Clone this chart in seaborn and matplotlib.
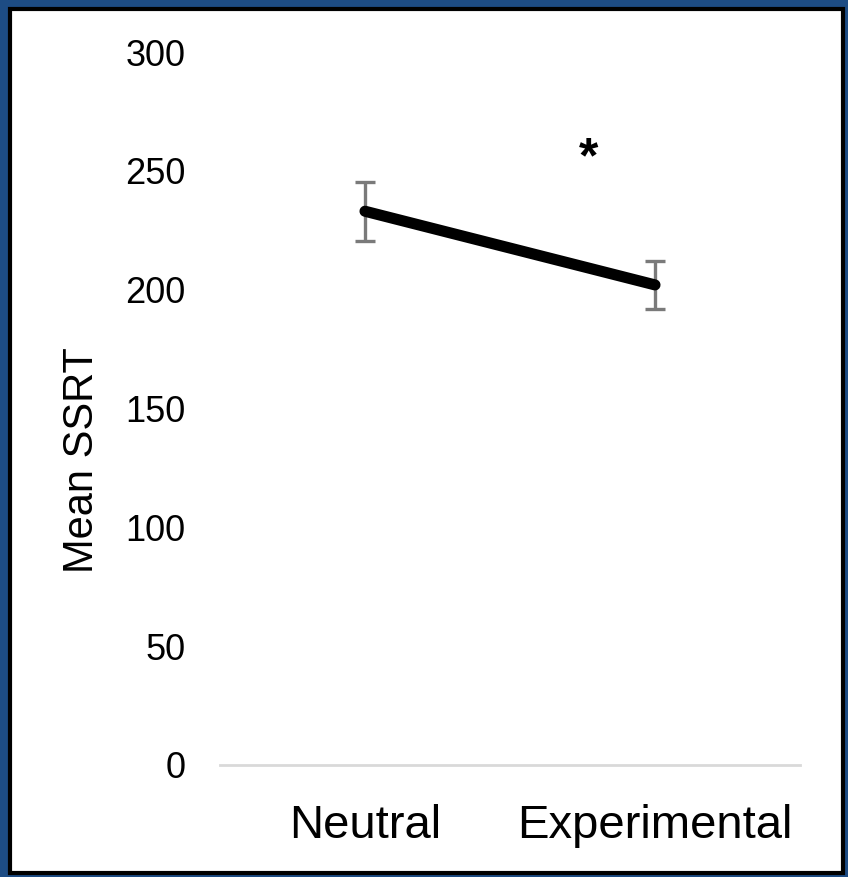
import matplotlib
matplotlib.use("Agg")
from matplotlib import pyplot as plt
from matplotlib.patches import Rectangle
import seaborn as sns
import pandas as pd

conditions = ["Neutral", "Experimental"]
mean_ssrt = [233, 202]
err_ssrt = [12.5, 10]
y_ticks = [0, 50, 100, 150, 200, 250, 300]

sns.set_theme(style="white")
plt.rcParams['font.family'] = ['Liberation Sans', 'DejaVu Sans']
plt.rcParams['text.color'] = 'black'
plt.rcParams['xtick.color'] = 'black'
plt.rcParams['ytick.color'] = 'black'
plt.rcParams['axes.labelcolor'] = 'black'

df = pd.DataFrame({"condition": conditions, "ssrt": mean_ssrt})

fig = plt.figure(figsize=(8.48, 8.77), dpi=100, facecolor="#1d4c84")
# white panel with black frame, drawn behind the axes
fig.patches.append(Rectangle((10 / 848, 4 / 877), 833 / 848, 864 / 877,
                             transform=fig.transFigure, facecolor="white",
                             edgecolor="black", linewidth=3, zorder=-10))

ax = fig.add_axes([220 / 848, 1 - 765 / 877, 580 / 848, 713 / 877])
ax.set_facecolor("none")
ax.set_zorder(1)

ax.errorbar(conditions, mean_ssrt, yerr=err_ssrt, fmt="none", ecolor="#7a7a7a",
            elinewidth=2.4, capsize=7, capthick=2.4, zorder=2)
sns.lineplot(data=df, x="condition", y="ssrt", color="black", linewidth=8,
             solid_capstyle="round", sort=False, ax=ax, zorder=3)

ax.text(0.77, 255, "*", fontsize=36, fontweight="bold", ha="center", va="center")

ax.set_xlim(-0.5, 1.5)
ax.set_ylim(0, 300)
ax.set_yticks(y_ticks)
ax.tick_params(axis="y", labelsize=26, pad=25, length=0)
ax.tick_params(axis="x", labelsize=34, pad=28, length=0)
for s in ["top", "right", "left"]:
    ax.spines[s].set_visible(False)
ax.spines["bottom"].set_color("#d9d9d9")
ax.spines["bottom"].set_linewidth(2)
ax.set_xlabel("")
ax.set_ylabel("Mean SSRT", fontsize=30)
ax.yaxis.set_label_coords(-0.203, 0.428)

fig.savefig("out.png", dpi=100, facecolor=fig.get_facecolor())
